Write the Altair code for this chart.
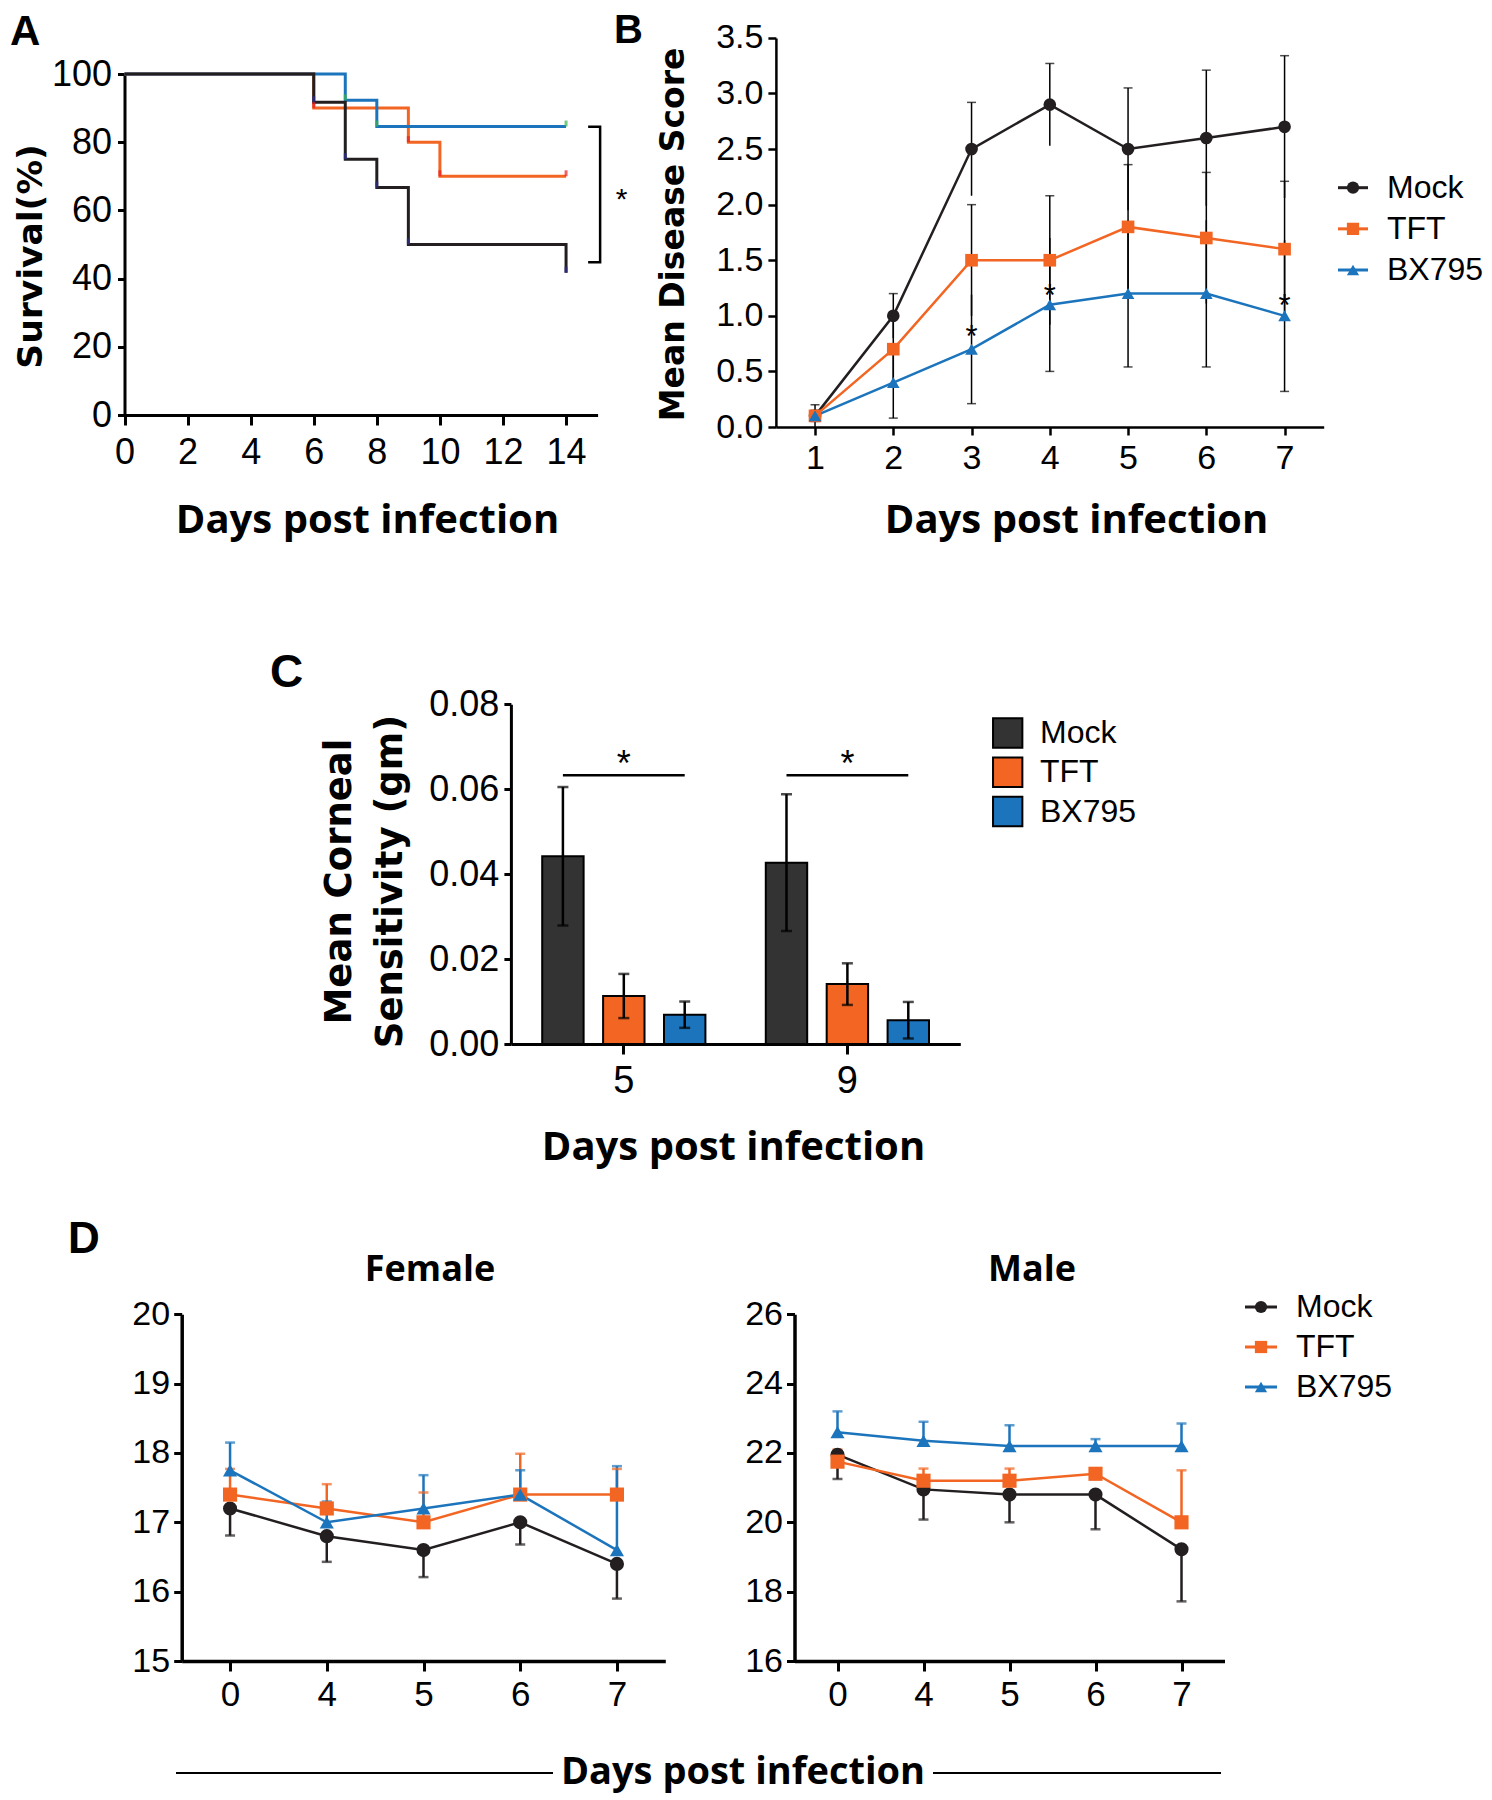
import altair as alt
import pandas as pd

# ------------------------------------------------------------------ data
SERIES = ["Mock", "TFT", "BX795"]
LINE_COLORS = ["#231f20", "#f26522", "#1c75bc"]
BAR_COLORS = ["#333333", "#f26522", "#1c75bc"]
EVENT_COLORS = ["#2e3192", "#ed1c24", "#39b54a"]   # KM event marks (Mock, TFT, BX795)
SHAPES = ["circle", "square", "triangle-up"]

# A: Kaplan-Meier survival (%)
a_mock_days = [0, 6, 7, 8, 9, 14]
a_mock_surv = [100, 91.7, 75.0, 66.7, 50.0, 41.7]
a_tft_days = [0, 6, 9, 10, 14]
a_tft_surv = [100, 90, 80, 70, 70]
a_bx_days = [0, 7, 8, 14]
a_bx_surv = [100, 92.3, 84.6, 84.6]
a_bracket_x = [14.7, 15.08, 15.08, 14.7]
a_bracket_y = [84.5, 84.5, 44.8, 44.8]
a_star_x = [15.76]
a_star_y = [64.0]

# B: mean disease score
b_days = [1, 2, 3, 4, 5, 6, 7]
b_mock = [0.1, 1.0, 2.5, 2.9, 2.5, 2.6, 2.7]
b_mock_err = [0.1, 0.2, 0.42, 0.37, 0.55, 0.61, 0.64]
b_tft = [0.1, 0.7, 1.5, 1.5, 1.8, 1.7, 1.6]
b_tft_err = [0.05, 0.3, 0.5, 0.58, 0.56, 0.59, 0.61]
b_bx = [0.1, 0.4, 0.7, 1.1, 1.2, 1.2, 1.0]
b_bx_err = [0.05, 0.32, 0.49, 0.6, 0.66, 0.66, 0.68]
b_cap_side = [1, 1, -1]
b_star_days = [3, 4, 7]
b_star_y = [0.82, 1.19, 1.10]

# C: corneal sensitivity
c_groups = ["5", "9"]
c_mock = [0.0442, 0.0427]
c_mock_err = [0.0163, 0.0161]
c_tft = [0.0113, 0.0141]
c_tft_err = [0.0052, 0.0049]
c_bx = [0.0069, 0.0056]
c_bx_err = [0.0031, 0.0043]
c_sig_y = [0.0633, 0.0633]
c_star_y = [0.0677, 0.0677]

# D: body weight
d_days = ["0", "4", "5", "6", "7"]
f_mock = [17.2, 16.8, 16.6, 17.0, 16.4]
f_mock_err = [0.39, 0.37, 0.39, 0.32, 0.5]
f_tft = [17.4, 17.2, 17.0, 17.4, 17.4]
f_tft_err = [0.37, 0.35, 0.43, 0.59, 0.37]
f_bx = [17.75, 17.0, 17.2, 17.4, 16.6]
f_bx_err = [0.4, 0.3, 0.48, 0.35, 1.21]
m_mock = [21.95, 20.95, 20.8, 20.8, 19.22]
m_mock_err = [0.7, 0.87, 0.8, 1.0, 1.5]
m_tft = [21.75, 21.2, 21.2, 21.4, 20.0]
m_tft_err = [0.35, 0.35, 0.35, 0.15, 1.5]
m_bx = [22.6, 22.35, 22.2, 22.2, 22.2]
m_bx_err = [0.6, 0.55, 0.6, 0.2, 0.65]
d_err_side = [-1, 1, 1]

# ------------------------------------------------------------------ layout helpers
W, H = 1476, 1790
M = 8


def px(v):
    return v - M


NUM_FONT = "Liberation Sans"
XT_FONT = "Open Sans"
YT_FONT = "DejaVu Sans"


def axis(orient, pos, **kw):
    base = dict(orient=orient, grid=False, domainColor="black", tickColor="black",
                labelColor="black", titleColor="black", domainWidth=3, tickWidth=3,
                labelFont=NUM_FONT, labelFlush=False, labelOverlap=False,
                titleFontWeight="bold")
    base["offset"] = -px(pos) if orient == "left" else px(pos) - H
    base.update(kw)
    return alt.Axis(**base)


def color_line():
    return alt.Scale(domain=SERIES, range=LINE_COLORS)


def shape_sc():
    return alt.Scale(domain=SERIES, range=SHAPES)


one = pd.DataFrame({"k": [0]})
layers = []

# ------------------------------------------------------------------ panel A
xA = dict(domain=[0, 15], range=[px(124.5), px(597.6)], nice=False, zero=False)
yA = dict(domain=[0, 100], range=[px(415), px(74)], nice=False, zero=False)
axA_x = axis("bottom", 415, values=list(range(0, 15, 2)), tickSize=10, labelFontSize=36,
             labelPadding=10, title="Days post infection", titleFont=XT_FONT, titleFontSize=40,
             titleX=px(367), titleY=532 - 415, titleBaseline="alphabetic", titleAlign="center")
axA_y = axis("left", 124.5, values=list(range(0, 101, 20)), tickSize=7, labelFontSize=36,
             labelPadding=6, title="Survival(%)", titleFont=YT_FONT, titleFontSize=34.5,
             titleX=31 - 124.5, titleY=px(256), titleBaseline="middle", titleAngle=270,
             titleAlign="center")


def ax_enc(xf, yf, with_axes=False):
    return dict(x=alt.X(xf, scale=alt.Scale(**xA), axis=axA_x if with_axes else None),
                y=alt.Y(yf, scale=alt.Scale(**yA), axis=axA_y if with_axes else None))


def km(days, surv, color, with_axes=False):
    df = pd.DataFrame({"day": days, "surv": surv})
    return alt.Chart(df).mark_line(interpolate="step-after", color=color, strokeWidth=3).encode(
        **ax_enc("day:Q", "surv:Q", with_axes))


def km_events(days, surv, color):
    df = pd.DataFrame({"day": days[1:], "surv": surv[1:]})
    return alt.Chart(df).mark_tick(orient="vertical", color=color, thickness=3, size=6, yOffset=-3).encode(
        **ax_enc("day:Q", "surv:Q"))


layers += [km(a_tft_days, a_tft_surv, LINE_COLORS[1], True),
           km(a_bx_days, a_bx_surv, LINE_COLORS[2]),
           km(a_mock_days, a_mock_surv, LINE_COLORS[0]),
           km_events(a_mock_days, a_mock_surv, EVENT_COLORS[0]),
           km_events(a_tft_days, a_tft_surv, EVENT_COLORS[1]),
           km_events(a_bx_days, a_bx_surv, EVENT_COLORS[2])]
layers.append(alt.Chart(pd.DataFrame({"bx": a_bracket_x, "by": a_bracket_y, "i": range(4)})).mark_line(
    color="black", strokeWidth=2.5).encode(order="i:Q", **ax_enc("bx:Q", "by:Q")))
layers.append(alt.Chart(pd.DataFrame({"sx": a_star_x, "sy": a_star_y})).mark_text(
    text="*", font=NUM_FONT, fontSize=30, baseline="middle", dy=3, color="black").encode(
    **ax_enc("sx:Q", "sy:Q")))

# ------------------------------------------------------------------ panel B
rows = []
for s, vals, errs, side in zip(SERIES, [b_mock, b_tft, b_bx], [b_mock_err, b_tft_err, b_bx_err], b_cap_side):
    for d, v, e in zip(b_days, vals, errs):
        rows.append({"day": d, "value": v, "lo": v - e, "hi": v + e, "cap": v + side * e, "series": s})
dfB = pd.DataFrame(rows)

xB = dict(domain=[0.5, 7.5], range=[px(775.9), px(1323.7)], nice=False, zero=False)
yB = dict(domain=[0, 3.5], range=[px(427), px(37.9)], nice=False, zero=False)
axB_x = axis("bottom", 427, values=b_days, tickSize=8, labelFontSize=34, labelPadding=6,
             title="Days post infection", titleFont=XT_FONT, titleFontSize=40,
             titleX=px(1076), titleY=532 - 427, titleBaseline="alphabetic", titleAlign="center",
             domainWidth=2.5, tickWidth=2.5)
axB_y = axis("left", 775.9, values=[i * 0.5 for i in range(8)], format=".1f", tickSize=8,
             labelFontSize=34, labelPadding=5, title="Mean Disease Score", titleFont=YT_FONT,
             titleFontSize=33, titleX=673 - 775.9, titleY=px(234), titleBaseline="middle",
             titleAngle=270, titleAlign="center", domainWidth=2.5, tickWidth=2.5)


def bx(ax=None):
    return alt.X("day:Q", scale=alt.Scale(**xB), axis=ax)


def by(field, ax=None):
    return alt.Y(field, scale=alt.Scale(**yB), axis=ax)


baseB = alt.Chart(dfB)
layers.append(baseB.mark_rule(color="black", strokeWidth=1.5).encode(
    x=bx(axB_x), y=by("lo:Q", axB_y), y2="hi:Q"))
layers.append(baseB.mark_tick(orient="horizontal", color="black", thickness=1.5, size=9).encode(
    x=bx(), y=by("cap:Q")))
layers.append(baseB.mark_line(strokeWidth=2.5).encode(
    x=bx(), y=by("value:Q"), color=alt.Color("series:N", scale=color_line(), legend=None)))
layers.append(baseB.mark_point(filled=True, opacity=1, size=160).encode(
    x=bx(), y=by("value:Q"), color=alt.Color("series:N", scale=color_line(), legend=None),
    shape=alt.Shape("series:N", scale=shape_sc(), legend=None)))
layers.append(alt.Chart(pd.DataFrame({"day": b_star_days, "sy": b_star_y})).mark_text(
    text="*", font=NUM_FONT, fontSize=31, baseline="middle", dy=2, color="black").encode(
    x=bx(), y=by("sy:Q")))

# ------------------------------------------------------------------ panel C
rows = []
for s, vals, errs in zip(SERIES, [c_mock, c_tft, c_bx], [c_mock_err, c_tft_err, c_bx_err]):
    for g, v, e in zip(c_groups, vals, errs):
        rows.append({"group": g, "series": s, "value": v, "lo": v - e, "hi": v + e})
dfC = pd.DataFrame(rows)

xC = dict(type="band", domain=c_groups, range=[px(510.9), px(960.3)], paddingInner=0.27, paddingOuter=0.14)
xoC = dict(type="band", domain=SERIES, paddingInner=0.32, paddingOuter=0)
yC = dict(domain=[0, 0.08], range=[px(1044), px(704.2)], nice=False, zero=True)
axC_x = axis("bottom", 1044, tickSize=10, labelFontSize=38, labelPadding=8, labelAngle=0,
             title="Days post infection", titleFont=XT_FONT, titleFontSize=40,
             titleX=px(733), titleY=1159 - 1044, titleBaseline="alphabetic", titleAlign="center")
axC_y = axis("left", 510.9, values=[0, 0.02, 0.04, 0.06, 0.08], format=".2f", tickSize=7,
             labelFontSize=36, labelPadding=5, title=["Mean Corneal", "Sensitivity (gm)"],
             titleFont=YT_FONT, titleFontSize=37, titleLineHeight=51, titleX=339 - 510.9,
             titleY=px(881), titleBaseline="middle", titleAngle=270, titleAlign="center")


def cx(ax=None):
    return alt.X("group:N", scale=alt.Scale(**xC), axis=ax, sort=c_groups)


def cxo():
    return alt.XOffset("series:N", scale=alt.Scale(**xoC), sort=SERIES)


def cy(field, ax=None):
    return alt.Y(field, scale=alt.Scale(**yC), axis=ax)


baseC = alt.Chart(dfC)
layers.append(baseC.mark_bar(stroke="black", strokeWidth=2).encode(
    x=cx(axC_x), xOffset=cxo(), y=cy("value:Q", axC_y),
    color=alt.Color("series:N", scale=alt.Scale(domain=SERIES, range=BAR_COLORS), legend=None)))
layers.append(baseC.mark_rule(color="black", strokeWidth=2.5).encode(
    x=cx(), xOffset=cxo(), y=cy("lo:Q"), y2="hi:Q"))
for fld in ["hi:Q", "lo:Q"]:
    layers.append(baseC.mark_tick(orient="horizontal", color="black", thickness=2.5, size=11).encode(
        x=cx(), xOffset=cxo(), y=cy(fld)))
dfSig = pd.DataFrame({"group": c_groups * 2, "series": ["Mock"] * 2 + ["BX795"] * 2,
                      "sy": c_sig_y * 2})
layers.append(alt.Chart(dfSig).mark_line(color="black", strokeWidth=2.5).encode(
    x=cx(), xOffset=cxo(), y=cy("sy:Q"), detail="group:N"))
layers.append(alt.Chart(pd.DataFrame({"group": c_groups, "series": ["TFT", "TFT"], "sy": c_star_y})).mark_text(
    text="*", font=NUM_FONT, fontSize=36, baseline="middle", dy=9, color="black").encode(
    x=cx(), xOffset=cxo(), y=cy("sy:Q")))

# ------------------------------------------------------------------ panel D


def panel_d(vals, errs, x0, x1, ydom, yticks):
    rows = []
    for s, v_, e_, side in zip(SERIES, vals, errs, d_err_side):
        for d, v, e in zip(d_days, v_, e_):
            rows.append({"day": d, "series": s, "value": v, "cap": v + side * e})
    df = pd.DataFrame(rows)
    xs = dict(type="point", domain=d_days, range=[px(x0), px(x1)], padding=0.5)
    ys = dict(domain=ydom, range=[px(1661), px(1314.3)], nice=False, zero=False)
    ax_x = axis("bottom", 1661, tickSize=10, labelFontSize=35, labelPadding=6, labelAngle=0,
                title=None, domainWidth=3.5)
    ax_y = axis("left", x0, values=yticks, tickSize=8, labelFontSize=34, labelPadding=4,
                title=None, domainWidth=3.5)
    base = alt.Chart(df)
    col = alt.Color("series:N", scale=color_line(), legend=None)

    def xe(ax=None):
        return alt.X("day:N", scale=alt.Scale(**xs), axis=ax, sort=d_days)

    def ye(f, ax=None):
        return alt.Y(f, scale=alt.Scale(**ys), axis=ax)

    return [
        base.mark_rule(strokeWidth=2.5).encode(x=xe(ax_x), y=ye("value:Q", ax_y), y2="cap:Q", color=col),
        base.mark_tick(orient="horizontal", thickness=2.5, size=10).encode(x=xe(), y=ye("cap:Q"), color=col),
        base.mark_line(strokeWidth=2.5).encode(x=xe(), y=ye("value:Q"), color=col),
        base.mark_point(filled=True, opacity=1, size=200).encode(
            x=xe(), y=ye("value:Q"), color=col, shape=alt.Shape("series:N", scale=shape_sc(), legend=None)),
    ]


layers += panel_d([f_mock, f_tft, f_bx], [f_mock_err, f_tft_err, f_bx_err], 181.7, 665.3,
                  [15, 20], [15, 16, 17, 18, 19, 20])
layers += panel_d([m_mock, m_tft, m_bx], [m_mock_err, m_tft_err, m_bx_err], 794.5, 1224.5,
                  [16, 26], [16, 18, 20, 22, 24, 26])

# ------------------------------------------------------------------ legends


def line_legend(y_top, y_bot, x_line0, x_line1, x_text, size):
    df = pd.DataFrame({"series": SERIES})

    def y():
        return alt.Y("series:N", scale=alt.Scale(type="point", domain=SERIES,
                                                 range=[px(y_top), px(y_bot)], padding=0),
                     axis=None, sort=SERIES)

    col = alt.Color("series:N", scale=color_line(), legend=None)
    base = alt.Chart(df)
    return [
        base.mark_rule(strokeWidth=3).encode(x=alt.value(px(x_line0)), x2=alt.value(px(x_line1)), y=y(), color=col),
        base.mark_point(filled=True, opacity=1, size=size).encode(
            x=alt.value(px((x_line0 + x_line1) / 2)), y=y(), color=col,
            shape=alt.Shape("series:N", scale=shape_sc(), legend=None)),
        base.mark_text(align="left", baseline="middle", font=NUM_FONT, fontSize=32, color="black").encode(
            x=alt.value(px(x_text)), y=y(), text="series:N"),
    ]


layers += line_legend(187.7, 270, 1338, 1368, 1387, 150)
layers += line_legend(1307, 1387, 1245, 1277, 1296, 150)

dfLC = pd.DataFrame({"series": SERIES})


def ylc():
    return alt.Y("series:N", scale=alt.Scale(type="point", domain=SERIES, range=[px(733), px(811.5)], padding=0),
                 axis=None, sort=SERIES)


layers.append(alt.Chart(dfLC).mark_square(size=860, stroke="black", strokeWidth=2, opacity=1).encode(
    x=alt.value(px(1007.7)), y=ylc(),
    color=alt.Color("series:N", scale=alt.Scale(domain=SERIES, range=BAR_COLORS), legend=None)))
layers.append(alt.Chart(dfLC).mark_text(align="left", baseline="middle", font=NUM_FONT, fontSize=32,
                                        color="black").encode(
    x=alt.value(px(1040)), y=ylc(), text="series:N"))

# ------------------------------------------------------------------ decorations


def label(text, x, y, size, font=NUM_FONT, align="left"):
    return alt.Chart(one).mark_text(text=text, font=font, fontSize=size, fontWeight="bold",
                                    align=align, baseline="alphabetic", color="black").encode(
        x=alt.value(px(x)), y=alt.value(px(y)))


def hline(x0, x1, y):
    return alt.Chart(one).mark_rule(color="black", strokeWidth=2).encode(
        x=alt.value(px(x0)), x2=alt.value(px(x1)), y=alt.value(px(y)))


layers += [
    label("A", 10, 45, 42),
    label("B", 614, 43, 40),
    label("C", 270, 687, 46),
    label("D", 68, 1253, 44),
    label("Female", 430, 1281, 36, font=XT_FONT, align="center"),
    label("Male", 1032, 1281, 36, font=XT_FONT, align="center"),
    label("Days post infection", 743, 1784, 38, font=XT_FONT, align="center"),
    hline(176, 553, 1773),
    hline(933, 1221, 1773),
]

chart = alt.layer(*layers).resolve_scale(
    x="independent", y="independent", color="independent", shape="independent", xOffset="independent"
).resolve_axis(x="independent", y="independent").properties(
    width=W, height=H, padding=0, background="white", autosize=alt.AutoSizeParams(type="none")
).configure_view(stroke=None)

chart.save("out.html", embed_options={"renderer": "svg", "actions": False})
